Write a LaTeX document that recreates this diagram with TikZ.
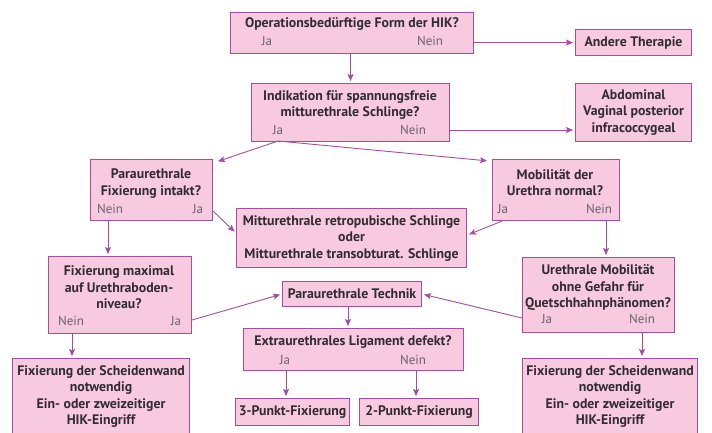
\documentclass[tikz,border=0pt]{standalone}
\usepackage{fontspec}
\setmainfont{PT Sans}
\usetikzlibrary{arrows.meta}
\definecolor{boxfill}{RGB}{247,202,224}
\definecolor{boxline}{RGB}{163,78,160}
\definecolor{txt}{RGB}{50,44,50}
\definecolor{lbl}{RGB}{105,98,105}
\begin{document}
\begin{tikzpicture}[x=1pt,y=-1pt,
  box/.style={draw=boxline, fill=boxfill, line width=1.1pt, inner sep=0pt, anchor=north west,
    font=\bfseries\fontsize{13.8}{16.5}\selectfont, text=txt, align=center},
  mt/.style={font=\bfseries\fontsize{13.8}{16.5}\selectfont, text=txt, align=center, inner sep=0pt},
  lab/.style={font=\fontsize{13}{14}\selectfont, text=lbl, inner sep=0pt},
  arr/.style={draw=boxline, line width=0.9pt, -{Stealth[length=7pt,width=6pt,inset=1.5pt]}, shorten >=2pt}]
\path[use as bounding box] (0,0) rectangle (712,432);

% boxes
\node[box, minimum width=243pt, minimum height=41pt] (q1) at (230,12) {};
\node[mt] (q1t) at (352,24) {Operationsbedürftige Form der HIK?};
\node[lab] (q1j) at (267,41) {Ja};
\node[lab] (q1n) at (430,41) {Nein};

\node[box, minimum width=116pt, minimum height=26pt] (andere) at (575,29) {Andere Therapie};

\node[box, minimum width=198pt, minimum height=58pt] (ind) at (251,83) {};
\node[mt] (indt) at (350,105) {Indikation für spannungsfreie\\mitturethrale Schlinge?};
\node[lab] (indj) at (278,130) {Ja};
\node[lab] (indn) at (413,130) {Nein};

\node[box, minimum width=116pt, minimum height=58pt] (abd) at (575,83) {Abdominal\\Vaginal posterior\\infracoccygeal};

\node[box, minimum width=122pt, minimum height=61pt] (p1) at (90,159) {};
\node[mt] (p1t) at (151,183.5) {Paraurethrale\\Fixierung intakt?};
\node[lab] (p1n) at (110,209) {Nein};
\node[lab] (p1j) at (198,209) {Ja};

\node[box, minimum width=230pt, minimum height=59pt] (mitt) at (236,208) {Mitturethrale retropubische Schlinge\\oder\\Mitturethrale transobturat. Schlinge};

\node[box, minimum width=127pt, minimum height=61pt] (mob) at (492,159) {};
\node[mt] (mobt) at (555,182.5) {Mobilität der\\Urethra normal?};
\node[lab] (mobj) at (503,209) {Ja};
\node[lab] (mobn) at (599,209) {Nein};

\node[box, minimum width=143pt, minimum height=77pt] (fmax) at (48,256) {};
\node[mt] (fmaxt) at (119,287.5) {Fixierung maximal\\auf Urethraboden-\\niveau?};
\node[lab] (fmaxn) at (71,321) {Nein};
\node[lab] (fmaxj) at (176,321) {Ja};

\node[box, minimum width=152pt, minimum height=75pt] (umob) at (522,257) {};
\node[mt] (umobt) at (598,287.5) {Urethrale Mobilität\\ohne Gefahr für\\Quetschhahnphänomen?};
\node[lab] (umobj) at (547,319) {Ja};
\node[lab] (umobn) at (642,319) {Nein};

\node[box, minimum width=139pt, minimum height=25pt] (ptech) at (282,281) {Paraurethrale Technik};

\node[box, minimum width=220pt, minimum height=42pt] (extra) at (243,328) {};
\node[mt] (extrat) at (353,342) {Extraurethrales Ligament defekt?};
\node[lab] (extraj) at (285,360) {Ja};
\node[lab] (extran) at (413,360) {Nein};

\node[box, minimum width=114pt, minimum height=27pt] (p3) at (235,398) {3-Punkt-Fixierung};
\node[box, minimum width=119pt, minimum height=27pt] (p2) at (359,398) {2-Punkt-Fixierung};

\node[box, minimum width=177pt, minimum height=76pt] (lb) at (12,358) {Fixierung der Scheidenwand\\notwendig\\Ein- oder zweizeitiger\\HIK-Eingriff};
\node[box, minimum width=175pt, minimum height=76pt] (rb) at (522,358) {Fixierung der Scheidenwand\\notwendig\\Ein- oder zweizeitiger\\HIK-Eingriff};

% connectors
\coordinate (split) at (278,141);
\draw[arr] (q1.east |- andere.west) -- (andere.west);
\draw[arr] (q1.south -| ind.north) -- (ind.north);
\draw[arr] (ind.east |- 0,130) -- (abd.west |- 0,130);
\draw[arr] (split) -- ([shift={(3pt,-3pt)}]p1.north east);
\draw[arr] (split) -- ([shift={(-3pt,-2pt)}]mob.north west);
\draw[arr] ([yshift=10pt]p1.south east) -- ([yshift=5pt]mitt.west);
\draw[arr] ([xshift=10pt]mob.south west) -- ([yshift=3pt]mitt.east);
\draw[arr] (mob.south -| 606,0) -- (umob.north -| 606,0);
\draw[arr] (p1.south -| 108,0) -- (fmax.north -| 108,0);
\draw[arr] (fmax.east |- 0,320) -- (ptech.west);
\draw[arr] (umob.west |- 0,318) -- (ptech.east);
\draw[arr] (ptech.south -| 348,0) -- (extra.north -| 348,0);
\draw[arr] (extra.south -| 286,0) -- (p3.north -| 286,0);
\draw[arr] (extra.south -| 416,0) -- (p2.north -| 416,0);
\draw[arr] (fmax.south -| 72,0) -- (lb.north -| 72,0);
\draw[arr] (umob.south -| 642,0) -- (rb.north -| 642,0);
\end{tikzpicture}
\end{document}
